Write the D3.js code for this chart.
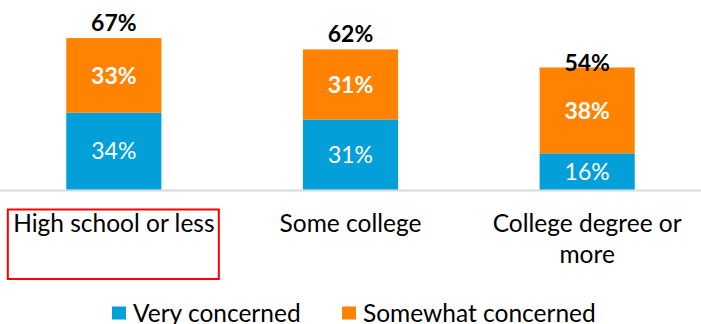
<!DOCTYPE html>
<html>
<head>
<meta charset="utf-8">
<script src="https://cdn.jsdelivr.net/npm/d3@7/dist/d3.min.js"></script>
<style>
  html, body { margin: 0; padding: 0; background: #fff; }
  svg { display: block; font-family: Lato, "Open Sans", sans-serif; }
</style>
</head>
<body>
<svg id="chart" width="701" height="324"></svg>
<script>
// Concern levels by education
const categories = ["High school or less", "Some college", "College degree or more"];
const categoryLines = [["High school or less"], ["Some college"], ["College degree or", "more"]];
const veryConcerned = [34, 31, 16];
const somewhatConcerned = [33, 31, 38];
const seriesNames = ["Very concerned", "Somewhat concerned"];
const colors = ["#029FD9", "#FF8200"];

const svg = d3.select("#chart");
const W = 701;
const baseY = 189.5;

const x = d3.scaleBand()
  .domain(categories)
  .range([-4.5, 705.5])
  .paddingInner(0.598)
  .paddingOuter(0.299);

const y = d3.scaleLinear().domain([0, 80]).range([baseY, baseY - 80 * 2.26]);

const rows = categories.map((c, i) => ({
  cat: c,
  very: veryConcerned[i],
  somewhat: somewhatConcerned[i],
  total: veryConcerned[i] + somewhatConcerned[i]
}));

const stack = d3.stack().keys(["very", "somewhat"])(rows);

// axis baseline
svg.append("line")
  .attr("x1", 0).attr("x2", W)
  .attr("y1", baseY + 1).attr("y2", baseY + 1)
  .attr("stroke", "#D9D9D9").attr("stroke-width", 2);

// stacked bars
const layers = svg.selectAll("g.layer").data(stack).join("g")
  .attr("class", "layer")
  .attr("fill", (d, i) => colors[i]);

layers.selectAll("rect").data(d => d).join("rect")
  .attr("x", d => x(d.data.cat))
  .attr("width", x.bandwidth())
  .attr("y", d => y(d[1]))
  .attr("height", d => y(d[0]) - y(d[1]));

// segment labels
layers.each(function(layer, li) {
  d3.select(this).selectAll("text").data(layer).join("text")
    .attr("x", d => x(d.data.cat) + x.bandwidth() / 2)
    .attr("y", d => (y(d[0]) + y(d[1])) / 2)
    .attr("dy", "0.36em")
    .attr("text-anchor", "middle")
    .attr("fill", "#fff")
    .attr("font-size", 23)
    .attr("font-weight", li === 1 ? 700 : 400)
    .text(d => (d[1] - d[0]) + "%");
});

// totals above bars (the shortest bar's total sits lower, overlapping its top)
const totalGap = d => d.total < 60 ? -4 : 7;
svg.selectAll("text.total").data(rows).join("text")
  .attr("class", "total")
  .attr("x", d => x(d.cat) + x.bandwidth() / 2)
  .attr("y", d => y(d.total) - totalGap(d))
  .attr("text-anchor", "middle")
  .attr("fill", "#000")
  .attr("font-size", 23)
  .attr("font-weight", 700)
  .text(d => d.total + "%");

// category labels
const catG = svg.selectAll("g.cat").data(categories).join("g")
  .attr("class", "cat")
  .attr("transform", d => `translate(${x(d) + x.bandwidth() / 2},0)`);

catG.each(function(c, i) {
  d3.select(this).selectAll("text").data(categoryLines[i]).join("text")
    .attr("x", 0)
    .attr("y", (d, j) => 232 + j * 31)
    .attr("text-anchor", "middle")
    .attr("fill", "#000")
    .attr("font-size", 24.5)
    .text(d => d);
});

// highlight box around first category
const c0 = x(categories[0]) + x.bandwidth() / 2;
svg.append("rect")
  .attr("x", c0 - 106).attr("y", 209.5)
  .attr("width", 211).attr("height", 69.5)
  .attr("fill", "none")
  .attr("stroke", "#FF0000")
  .attr("stroke-width", 2);

// legend
const legendX = [112, 342];
const legend = svg.selectAll("g.legend").data(seriesNames).join("g")
  .attr("class", "legend")
  .attr("transform", (d, i) => `translate(${legendX[i]},306.5)`);

legend.append("rect")
  .attr("width", 14).attr("height", 13)
  .attr("fill", (d, i) => colors[i]);

legend.append("text")
  .attr("x", 21).attr("y", 15.5)
  .attr("fill", "#000")
  .attr("font-size", 24.5)
  .text(d => d);
</script>
</body>
</html>
